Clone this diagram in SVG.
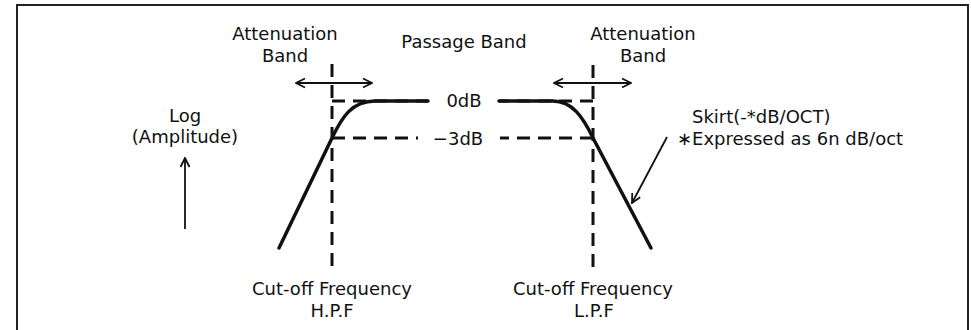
<svg xmlns="http://www.w3.org/2000/svg" width="971" height="330" viewBox="0 0 971 330">
<style>
text{font-family:"DejaVu Sans","Liberation Sans",sans-serif;font-size:18px;fill:#111}
.c{text-anchor:middle}
.dash{fill:none;stroke:#111;stroke-width:3;stroke-dasharray:13 8}
.curve{fill:none;stroke:#111;stroke-width:3.5;stroke-linecap:round;stroke-linejoin:round}
.thin{fill:none;stroke:#111;stroke-width:1.8}
</style>
<defs>
<marker id="ah" viewBox="0 0 12 12" refX="11" refY="6" markerWidth="12" markerHeight="12" markerUnits="userSpaceOnUse" orient="auto-start-reverse">
<polyline points="2,1.5 11,6 2,10.5" fill="none" stroke="#111" stroke-width="1.8"/>
</marker>
</defs>
<rect x="17" y="5" width="951" height="335" fill="#fff" stroke="#222" stroke-width="2"/>
<g id="guides">
<path class="dash" d="M332,64 V268 M332,101 H428 M332,138 H418"/>
<path class="dash" d="M593,65 V268 M593,101 H499 M593,138 H500"/>
</g>
<g id="curves">
<path id="hpf" class="curve" d="M279,248 L332,138 C342,117 352,101 375,101 L428,101"/>
<path id="lpf" class="curve" d="M499,101 L553,101 C572,101 583,117 593,138 L651,248"/>
</g>
<g id="connectors">
<line class="thin" x1="296" y1="83" x2="372" y2="83" marker-start="url(#ah)" marker-end="url(#ah)"/>
<line class="thin" x1="554" y1="83" x2="631" y2="83" marker-start="url(#ah)" marker-end="url(#ah)"/>
<line class="thin" x1="185" y1="229" x2="185" y2="158" marker-end="url(#ah)"/>
<line class="thin" x1="667" y1="137" x2="632" y2="203" marker-end="url(#ah)"/>
</g>
<g id="attenuation-left"><text class="c" x="285" y="40">Attenuation</text><text class="c" x="285" y="62">Band</text></g>
<g id="passage"><text class="c" x="464" y="48">Passage Band</text></g>
<g id="attenuation-right"><text class="c" x="643" y="40">Attenuation</text><text class="c" x="643" y="62">Band</text></g>
<g id="log"><text class="c" x="185" y="122">Log</text><text class="c" x="185" y="143">(Amplitude)</text></g>
<g id="db0"><text class="c" x="464" y="107">0dB</text></g>
<g id="db3"><text class="c" x="458" y="145">−3dB</text></g>
<g id="skirt"><text x="692" y="123">Skirt(-*dB/OCT)</text><text x="677" y="145">∗Expressed as 6n dB/oct</text></g>
<g id="cutoff-hpf"><text class="c" x="332" y="295">Cut-off Frequency</text><text class="c" x="332" y="317">H.P.F</text></g>
<g id="cutoff-lpf"><text class="c" x="593" y="295">Cut-off Frequency</text><text class="c" x="594" y="317">L.P.F</text></g>
</svg>
